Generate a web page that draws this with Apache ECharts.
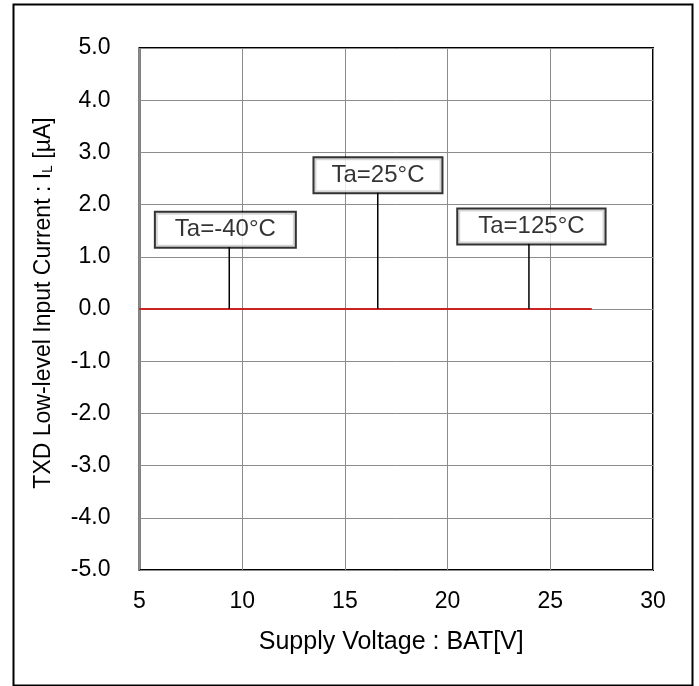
<!DOCTYPE html>
<html>
<head>
<meta charset="utf-8">
<script src="https://cdn.jsdelivr.net/npm/echarts@6/dist/echarts.min.js"></script>
<style>html,body{margin:0;padding:0;background:#fff;}#c{width:699px;height:686px;}</style>
</head>
<body>
<div id="c"></div>
<script>
// Supply voltage (V)
const voltages = [5, 6, 7, 8, 9, 10, 11, 12, 13, 14, 15, 16, 17, 18, 19, 20, 21, 22, 23, 24, 25, 26, 27];
// Low-level input current (uA) per temperature
const currentM40 = [0, 0, 0, 0, 0, 0, 0, 0, 0, 0, 0, 0, 0, 0, 0, 0, 0, 0, 0, 0, 0, 0, 0];
const currentP25 = [0, 0, 0, 0, 0, 0, 0, 0, 0, 0, 0, 0, 0, 0, 0, 0, 0, 0, 0, 0, 0, 0, 0];
const currentP125 = [0, 0, 0, 0, 0, 0, 0, 0, 0, 0, 0, 0, 0, 0, 0, 0, 0, 0, 0, 0, 0, 0, 0];
// Annotations (data coordinates)
const annotLabels = ['Ta=-40°C', 'Ta=25°C', 'Ta=125°C'];
const annotBoxX = [9.18, 16.61, 24.08];
const annotBoxY = [1.52, 2.56, 1.58];
const leaderX = [9.37, 16.60, 23.96];
const leaderTop = [1.19, 2.23, 1.25];
// Axis ticks
const xTicks = { min: 5, max: 30, step: 5 };
const yTicks = { min: -5, max: 5, step: 1 };

const FONT = "'Liberation Sans', Arial, sans-serif";
const chart = echarts.init(document.getElementById('c'), null, { renderer: 'canvas' });

const zip = (xs, ys) => xs.map((x, i) => [x, ys[i]]);
const lineColor = '#cc2222';

const series = [];
[currentM40, currentP25, currentP125].forEach((arr, i) => {
  series.push({
    type: 'line', name: annotLabels[i], data: zip(voltages, arr), symbol: 'none',
    lineStyle: { color: lineColor, width: 2 }, z: 3, animation: false
  });
});
leaderX.forEach((x, i) => {
  series.push({
    type: 'line', data: [[x, 0], [x, leaderTop[i]]], symbol: 'none',
    lineStyle: { color: '#000', width: 1.5 }, z: 4, animation: false
  });
});
const pads = [[5, 19], [5, 17], [5, 20]];
series.push({
  type: 'scatter', z: 5, animation: false,
  symbolSize: 1, itemStyle: { color: 'rgba(0,0,0,0)' },
  data: annotLabels.map((t, i) => ({
    value: [annotBoxX[i], annotBoxY[i]],
    label: { padding: pads[i] }
  })),
  label: {
    show: true, position: 'inside',
    formatter: (p) => annotLabels[p.dataIndex],
    fontFamily: FONT, fontSize: 24, color: '#000', lineHeight: 24,
    backgroundColor: '#fff', borderColor: '#000', borderWidth: 2
  }
});

chart.setOption({
  backgroundColor: '#fff',
  animation: false,
  textStyle: { fontFamily: FONT },
  graphic: [{
    type: 'rect', left: 11, top: 2,
    shape: { width: 679, height: 681 },
    style: { fill: 'none', stroke: '#000', lineWidth: 2 }
  }],
  grid: { left: 139.5, right: 46, top: 48, bottom: 116, show: true, borderColor: '#000', borderWidth: 2, containLabel: false },
  xAxis: {
    type: 'value', min: xTicks.min, max: xTicks.max, interval: xTicks.step,
    name: 'Supply Voltage : BAT[V]', nameLocation: 'middle', nameGap: 60,
    nameTextStyle: { fontFamily: FONT, fontSize: 25, color: '#000', padding: [0, 10, 0, 0] },
    axisLine: { show: false }, axisTick: { show: false },
    axisLabel: { fontFamily: FONT, fontSize: 23, color: '#000', margin: 20 },
    splitLine: { show: true, lineStyle: { color: '#8c8c8c', width: 1 } }
  },
  yAxis: {
    type: 'value', min: yTicks.min, max: yTicks.max, interval: yTicks.step,
    name: '{a|TXD Low-level Input Current : I}{s|L}{a| [µA]}', nameLocation: 'middle', nameGap: 84, nameRotate: 90,
    nameTextStyle: {
      fontFamily: FONT, fontSize: 23, color: '#000', padding: [0, 0, 0, 12],
      rich: {
        a: { fontFamily: FONT, fontSize: 23, color: '#000' },
        s: { fontFamily: FONT, fontSize: 14, color: '#000', verticalAlign: 'bottom', padding: [8, 0, 0, 0] }
      }
    },
    axisLine: { show: false }, axisTick: { show: false },
    axisLabel: { fontFamily: FONT, fontSize: 23, color: '#000', margin: 29, formatter: (v) => v.toFixed(1) },
    splitLine: { show: true, lineStyle: { color: '#8c8c8c', width: 1 } }
  },
  series: series
});
</script>
</body>
</html>
